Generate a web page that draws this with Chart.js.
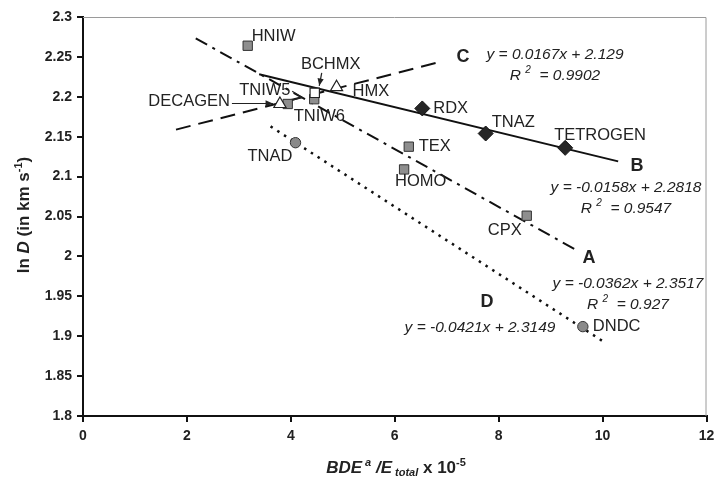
<!DOCTYPE html>
<html>
<head>
<meta charset="utf-8">
<script src="https://cdn.jsdelivr.net/npm/chart.js@4.4.1/dist/chart.umd.min.js"></script>
<style>
html, body { margin: 0; padding: 0; background: #fff; }
canvas { display: block; }
</style>
</head>
<body>
<canvas id="grafico" width="715" height="483"></canvas>
<script>
// Serie A: cuadrados grises (recta de trazo y punto)
const nombresA = ['HNIW', 'TNIW5', 'TNIW6', 'TEX', 'HOMO', 'CPX'];
const xA = [3.17, 4.45, 3.94, 6.27, 6.18, 8.54];
const yA = [2.264, 2.197, 2.191, 2.1375, 2.109, 2.051];

// Serie B: rombos negros (recta continua)
const nombresB = ['RDX', 'TNAZ', 'TETROGEN'];
const xB = [6.53, 7.75, 9.28];
const yB = [2.1854, 2.154, 2.136];

// Serie C: triángulos abiertos (recta discontinua)
const nombresC = ['DECAGEN', 'BCHMX', 'HMX'];
const xC = [3.79, 4.46, 4.88];
const yC = [2.191, 2.205, 2.212];

// Serie D: círculos grises (recta punteada)
const nombresD = ['TNAD', 'DNDC'];
const xD = [4.09, 9.62];
const yD = [2.1425, 1.912];

// Rectas de tendencia: pendiente, ordenada y tramo dibujado
const rectas = ['A', 'B', 'C', 'D'];
const pendientes = [-0.0362, -0.0158, 0.0167, -0.0421];
const ordenadas = [2.3517, 2.2818, 2.129, 2.3149];
const tramoInicio = [2.17, 3.39, 1.79, 3.61];
const tramoFin = [9.53, 10.3, 6.83, 10.0];
const ecuaciones = ['y = -0.0362x + 2.3517', 'y = -0.0158x + 2.2818', 'y = 0.0167x + 2.129', 'y = -0.0421x + 2.3149'];
const r2 = ['0.927', '0.9547', '0.9902', null];

// Ejes
const ticksX = [0, 2, 4, 6, 8, 10, 12];
const ticksY = [1.8, 1.85, 1.9, 1.95, 2, 2.05, 2.1, 2.15, 2.2, 2.25, 2.3];

const FUENTE = '"Liberation Sans", Arial, sans-serif';

function puntos(xs, ys) {
    return xs.map((x, i) => ({ x: x, y: ys[i] }));
}

function recta(i) {
    const x0 = tramoInicio[i], x1 = tramoFin[i];
    return [
        { x: x0, y: pendientes[i] * x0 + ordenadas[i] },
        { x: x1, y: pendientes[i] * x1 + ordenadas[i] }
    ];
}

// Posición de cada etiqueta respecto a su punto (dx, dy, alineación)
const posEtiquetas = {
    HNIW: [4, -9, 'left'],
    TNIW5: [-75, -9, 'left'],
    TNIW6: [6, 12, 'left'],
    TEX: [10, 0, 'left'],
    HOMO: [-9, 12, 'left'],
    CPX: [-39, 15, 'left'],
    RDX: [11, 0, 'left'],
    TNAZ: [6, -11, 'left'],
    TETROGEN: [-11, -12, 'left'],
    DECAGEN: [-50, -2.5, 'right'],
    BCHMX: [16, -28, 'center'],
    HMX: [16, 4, 'left'],
    TNAD: [-48, 14, 'left'],
    DNDC: [10, 0, 'left']
};

// Escribe texto con trozos de distinto estilo (superíndices, cursivas)
function textoRico(ctx, trozos, x, y, align) {
    let ancho = 0;
    trozos.forEach(t => { ctx.font = t.f; ancho += ctx.measureText(t.t).width; });
    let cx = align === 'center' ? x - ancho / 2 : (align === 'right' ? x - ancho : x);
    ctx.textAlign = 'left';
    ctx.textBaseline = 'alphabetic';
    trozos.forEach(t => {
        ctx.font = t.f;
        ctx.fillText(t.t, cx, y + (t.dy || 0));
        cx += ctx.measureText(t.t).width;
    });
}

function flecha(ctx, x0, y0, x1, y1) {
    ctx.beginPath();
    ctx.moveTo(x0, y0);
    ctx.lineTo(x1, y1);
    ctx.stroke();
    const ang = Math.atan2(y1 - y0, x1 - x0);
    ctx.beginPath();
    ctx.moveTo(x1, y1);
    ctx.lineTo(x1 - 8 * Math.cos(ang - 0.4), y1 - 8 * Math.sin(ang - 0.4));
    ctx.lineTo(x1 - 8 * Math.cos(ang + 0.4), y1 - 8 * Math.sin(ang + 0.4));
    ctx.closePath();
    ctx.fill();
}

const marcoGris = {
    id: 'marcoGris',
    beforeDatasetsDraw(chart) {
        const { ctx, chartArea: a } = chart;
        ctx.save();
        ctx.strokeStyle = '#9a9a9a';
        ctx.lineWidth = 1;
        ctx.beginPath();
        ctx.moveTo(a.left, a.top + 0.5);
        ctx.lineTo(a.right - 0.5, a.top + 0.5);
        ctx.lineTo(a.right - 0.5, a.bottom);
        ctx.stroke();
        ctx.restore();
    }
};

const anotaciones = {
    id: 'anotaciones',
    afterDatasetsDraw(chart) {
        const ctx = chart.ctx;
        const sx = chart.scales.x, sy = chart.scales.y;
        ctx.save();
        ctx.fillStyle = '#222';
        ctx.strokeStyle = '#222';

        // Etiquetas de los compuestos
        const grupos = [[nombresA, xA, yA], [nombresB, xB, yB], [nombresC, xC, yC], [nombresD, xD, yD]];
        const pix = {};
        ctx.font = '16.5px ' + FUENTE;
        ctx.textBaseline = 'middle';
        grupos.forEach(g => {
            g[0].forEach((n, i) => {
                const px = sx.getPixelForValue(g[1][i]);
                const py = sy.getPixelForValue(g[2][i]);
                pix[n] = [px, py];
                const p = posEtiquetas[n];
                ctx.textAlign = p[2];
                ctx.fillText(n, px + p[0], py + p[1]);
            });
        });

        // Flechas de DECAGEN, BCHMX y TNIW5
        ctx.lineWidth = 1.2;
        let d = pix.DECAGEN;
        flecha(ctx, d[0] - 48, d[1] - 0.5, d[0] - 7, d[1] - 0.5);
        d = pix.BCHMX;
        flecha(ctx, d[0] + 7, d[1] - 20, d[0] + 4.5, d[1] - 7);
        d = pix.TNIW5;
        ctx.beginPath();
        ctx.moveTo(d[0] - 22, d[1] - 8);
        ctx.lineTo(d[0] - 12.5, d[1] - 2);
        ctx.lineTo(d[0] - 22, d[1] + 1);
        ctx.stroke();

        // Letras de las rectas
        const letras = { A: [589, 258], B: [637, 166], C: [463, 57], D: [487, 302] };
        ctx.font = 'bold 18px ' + FUENTE;
        ctx.textAlign = 'center';
        ctx.textBaseline = 'middle';
        rectas.forEach(r => ctx.fillText(r, letras[r][0], letras[r][1]));

        // Ecuaciones y R2
        const posEc = [[628, 288, 309], [626, 192, 213], [555, 59, 80], [480, 332, null]];
        const fi = 'italic 15.5px ' + FUENTE;
        const fs = 'italic 10px ' + FUENTE;
        ecuaciones.forEach((e, i) => {
            textoRico(ctx, [{ t: e, f: fi }], posEc[i][0], posEc[i][1], 'center');
            if (r2[i]) {
                textoRico(ctx, [
                    { t: 'R ', f: fi },
                    { t: '2', f: fs, dy: -7 },
                    { t: '  = ' + r2[i], f: fi }
                ], posEc[i][0], posEc[i][2], 'center');
            }
        });

        // Título del eje X
        const fb = 'bold italic 17px ' + FUENTE;
        const fbs = 'bold italic 11px ' + FUENTE;
        textoRico(ctx, [
            { t: 'BDE', f: fb },
            { t: ' a', f: fbs, dy: -7 },
            { t: ' /E', f: fb },
            { t: ' total', f: fbs, dy: 3 },
            { t: ' x 10', f: 'bold 17px ' + FUENTE },
            { t: '-5', f: 'bold 11px ' + FUENTE, dy: -7 }
        ], 396, 473, 'center');

        // Título del eje Y (girado)
        ctx.translate(29, 215);
        ctx.rotate(-Math.PI / 2);
        textoRico(ctx, [
            { t: 'ln ', f: 'bold 17px ' + FUENTE },
            { t: 'D', f: 'bold italic 17px ' + FUENTE },
            { t: ' (in km s', f: 'bold 17px ' + FUENTE },
            { t: '-1', f: 'bold 11px ' + FUENTE, dy: -7 },
            { t: ')', f: 'bold 17px ' + FUENTE }
        ], 0, 0, 'center');
        ctx.restore();
    }
};

const estiloRecta = [
    { borderDash: [13, 6, 3, 6], borderWidth: 2 },
    { borderDash: [], borderWidth: 2 },
    { borderDash: [15, 8], borderWidth: 2 },
    { borderDash: [2.5, 5.5], borderWidth: 2.5 }
];

const datasets = [
    {
        data: puntos(xA, yA), pointStyle: 'rect', pointRadius: 6.6,
        backgroundColor: '#8e8e8e', borderColor: '#333', borderWidth: 1, order: 3
    },
    {
        data: puntos(xB, yB), pointStyle: 'rectRot', pointRadius: 7.5,
        backgroundColor: '#262626', borderColor: '#111', borderWidth: 1, order: 2
    },
    {
        data: puntos(xC, yC), pointStyle: ['triangle', 'rect', 'triangle'], pointRadius: [7, 6.6, 7],
        backgroundColor: '#fff', borderColor: '#222', borderWidth: 1.2, order: 1
    },
    {
        data: puntos(xD, yD), pointStyle: 'circle', pointRadius: 5.2,
        backgroundColor: '#8a8a8a', borderColor: '#333', borderWidth: 1, order: 2
    }
];

rectas.forEach((r, i) => {
    datasets.push({
        type: 'line',
        data: recta(i),
        borderColor: '#111',
        borderWidth: estiloRecta[i].borderWidth,
        borderDash: estiloRecta[i].borderDash,
        pointRadius: 0,
        fill: false,
        order: 10
    });
});

Chart.defaults.font.family = FUENTE;
Chart.defaults.color = '#222';

new Chart(document.getElementById('grafico'), {
    type: 'scatter',
    data: { datasets: datasets },
    options: {
        responsive: false,
        animation: false,
        devicePixelRatio: 1,
        layout: { padding: { top: 17, right: 8, left: 0, bottom: 0 } },
        plugins: { legend: { display: false }, tooltip: { enabled: false } },
        scales: {
            x: {
                type: 'linear', min: 0, max: 12,
                afterFit(scale) { scale.height = 67; scale.paddingLeft = 0; scale.paddingRight = 0; },
                afterBuildTicks(scale) { scale.ticks = ticksX.map(v => ({ value: v })); },
                ticks: { font: { size: 14, weight: 'bold' }, color: '#222', padding: 6, maxRotation: 0 },
                grid: { drawOnChartArea: false, drawTicks: true, tickLength: 6, color: '#111', lineWidth: 2 },
                border: { display: true, color: '#111', width: 2 }
            },
            y: {
                type: 'linear', min: 1.8, max: 2.3,
                afterFit(scale) { scale.width = 83; scale.paddingTop = 0; scale.paddingBottom = 0; },
                afterBuildTicks(scale) { scale.ticks = ticksY.map(v => ({ value: v })); },
                ticks: {
                    font: { size: 14, weight: 'bold' }, color: '#222', padding: 5,
                    callback: v => String(Number(v.toFixed(2)))
                },
                grid: { drawOnChartArea: false, drawTicks: true, tickLength: 6, color: '#111', lineWidth: 2 },
                border: { display: true, color: '#111', width: 2 }
            }
        }
    },
    plugins: [marcoGris, anotaciones]
});
</script>
</body>
</html>
